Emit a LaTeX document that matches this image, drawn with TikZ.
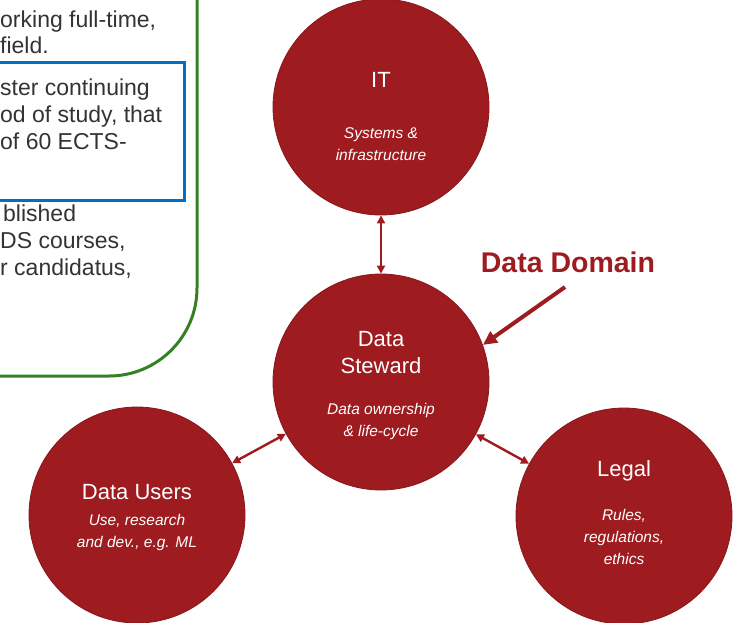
\documentclass[tikz,border=0pt]{standalone}
\usepackage{fontspec}
\setmainfont{Liberation Sans}
\usetikzlibrary{arrows.meta}
\definecolor{stewardred}{RGB}{158,27,32}
\definecolor{boxgreen}{RGB}{52,128,36}
\definecolor{boxblue}{RGB}{0,112,192}
\definecolor{bodygray}{RGB}{51,51,51}
\begin{document}
\begin{tikzpicture}[
x=1pt, y=-1pt,
role/.style = {circle, fill=stewardred, draw=stewardred!85!black, line width=0.8pt, minimum size=216pt, inner sep=0pt},
roletitle/.style = {text=white, align=center, inner sep=0pt, font=\fontsize{22}{27}\selectfont},
rolenote/.style = {text=white, align=center, inner sep=0pt, font=\itshape\fontsize{15.5}{22}\selectfont},
bodyline/.style = {anchor=base west, inner sep=0pt, text=bodygray, font=\fontsize{23}{27}\selectfont},
link/.style = {{Triangle[length=8pt,width=8pt]}-{Triangle[length=8pt,width=8pt]}, draw=stewardred, line width=2.4pt},
pointer/.style = {-{Triangle[length=14pt,width=13pt]}, draw=stewardred, line width=4pt},
]
  \useasboundingbox (0,0) rectangle (743,622);
  \begin{scope}
    \clip (0,0) rectangle (743,622);
    \draw[boxgreen, line width=3pt, rounded corners=88pt] (-200,-200) rectangle (197,376);
    \draw[boxblue, line width=3pt] (-20,62) rectangle (184,200);
  \end{scope}
  % cut-off text at the left
  \node[bodyline] (txt1) at (0,27) {orking full-time,};
  \node[bodyline] (txt2) at (0,53) {field.};
  \node[bodyline] (txt3) at (0,95) {ster continuing};
  \node[bodyline] (txt4) at (0,122) {od of study, that};
  \node[bodyline] (txt5) at (0,149) {of 60 ECTS-};
  \node[bodyline] (txt6) at (3,221) {blished};
  \node[bodyline] (txt7) at (0,248) {DS courses,};
  \node[bodyline] (txt8) at (0,275) {r candidatus,};
  % roles
  \node[role] (it) at (381,107) {};
  \node[role] (steward) at (381,382) {};
  \node[role] (users) at (137,515) {};
  \node[role] (legal) at (624,516) {};
  \node[roletitle] (it-t) at (381,80) {IT};
  \node[rolenote] (it-n) at (381,144) {Systems \&\\infrastructure};
  \node[roletitle] (steward-t) at (381,353) {Data\\Steward};
  \node[rolenote] (steward-n) at (381,421) {Data ownership\\\& life-cycle};
  \node[roletitle] (users-t) at (137,492) {Data Users};
  \node[rolenote] (users-n) at (137,532) {Use, research\\and dev., e.g. ML};
  \node[roletitle] (legal-t) at (624,471) {Legal};
  \node[rolenote] (legal-n) at (624,537) {Rules,\\regulations,\\ethics};
  \draw[link] (it) -- (steward);
  \draw[link] (steward) -- (users);
  \draw[link] (steward) -- (legal);
  % domain label
  \node[text=stewardred, font=\bfseries\fontsize{28.5}{32}\selectfont] (domain) at (568,262) {Data Domain};
  \coordinate (domtail) at (565,287);
  \draw[pointer] (domtail) -- (steward.20);
\end{tikzpicture}
\end{document}
